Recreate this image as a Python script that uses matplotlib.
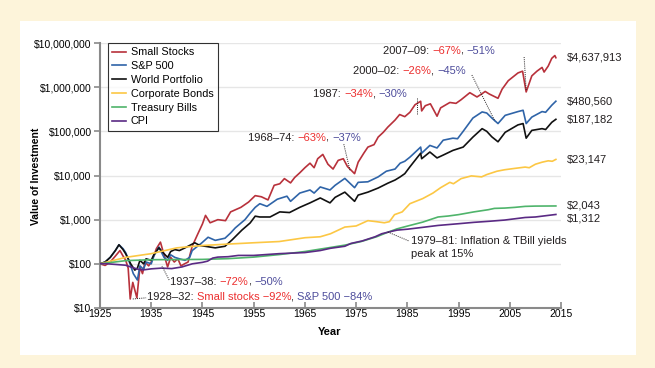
import matplotlib
matplotlib.use("Agg")
import matplotlib.pyplot as plt
from matplotlib.patches import Rectangle
from matplotlib.ticker import FixedLocator, NullLocator

plt.rcParams["font.family"] = ["Liberation Sans", "DejaVu Sans"]

# ── data (growth of $100 invested in 1925) ──────────────────────────────────
small_years = [1925.0, 1926.0, 1927.0, 1928.0, 1928.9, 1929.5, 1930.0, 1930.5, 1930.9, 1931.4,
               1932.2, 1932.8, 1933.3, 1933.8, 1934.5, 1935.0, 1935.5, 1936.0, 1936.8, 1937.5,
               1938.2, 1938.8, 1939.5, 1940.2, 1940.8, 1941.5, 1942.2, 1943.0, 1944.0, 1945.0,
               1945.6, 1946.5, 1948.0, 1949.5, 1950.5, 1952.5, 1954.0, 1955.3, 1956.5, 1957.8,
               1959.0, 1960.1, 1961.0, 1962.2, 1963.0, 1964.0, 1965.0, 1966.0, 1966.8, 1967.5,
               1968.5, 1969.5, 1970.5, 1971.5, 1972.5, 1973.3, 1974.7, 1975.4, 1976.5, 1977.3,
               1978.5, 1979.3, 1980.3, 1981.2, 1982.6, 1983.5, 1984.5, 1985.5, 1986.5, 1987.6,
               1987.8, 1988.5, 1989.5, 1990.8, 1991.5, 1993.3, 1994.5, 1995.5, 1997.2, 1998.6,
               1999.5, 2000.2, 2001.0, 2002.7, 2003.5, 2004.7, 2006.6, 2007.5, 2008.2, 2009.3,
               2010.3, 2011.3, 2011.7, 2012.5, 2013.2, 2013.8, 2014.0]
small_vals = [100, 92, 110, 150, 200, 150, 122, 80, 16, 38,
              17, 85, 60, 110, 90, 110, 150, 220, 310, 160,
              85, 140, 110, 130, 90, 100, 110, 250, 450, 800,
              1250, 850, 1000, 950, 1500, 1900, 2500, 3500, 3300, 2800,
              6000, 6500, 8500, 6800, 9000, 11500, 15000, 19000, 15000, 24000,
              30000, 18000, 14000, 22000, 24000, 16000, 11000, 20000, 32000, 44000,
              50000, 74000, 95000, 125000, 180000, 240000, 215000, 270000, 400000, 480000,
              290000, 380000, 420000, 220000, 340000, 450000, 430000, 520000, 750000, 600000,
              700000, 800000, 700000, 560000, 900000, 1400000, 2100000, 2300000, 780000, 1800000,
              2300000, 2800000, 2200000, 3000000, 4500000, 5200000, 4637913]

sp_years = [1925.0, 1926.0, 1927.0, 1928.0, 1928.7, 1929.5, 1930.0, 1930.5, 1931.0, 1931.5,
            1932.3, 1932.8, 1933.5, 1934.0, 1935.0, 1935.5, 1936.5, 1937.5, 1938.2, 1938.8,
            1939.6, 1940.5, 1941.6, 1942.5, 1943.0, 1944.9, 1946.1, 1947.5, 1949.4, 1950.5,
            1951.4, 1953.3, 1954.3, 1955.3, 1956.2, 1957.6, 1959.6, 1961.5, 1962.2, 1964.0,
            1966.0, 1966.8, 1968.0, 1969.9, 1970.9, 1972.8, 1974.7, 1975.4, 1977.3, 1979.3,
            1980.9, 1982.6, 1983.6, 1984.5, 1985.5, 1987.6, 1987.8, 1989.4, 1990.8, 1992.0,
            1993.9, 1994.8, 1995.9, 1997.8, 1999.6, 2000.5, 2001.5, 2002.7, 2004.1, 2006.6,
            2007.6, 2008.2, 2009.3, 2011.3, 2012.0, 2013.2, 2014.0]
sp_vals = [100, 110, 140, 200, 270, 220, 180, 130, 90, 60,
           43, 90, 75, 110, 100, 150, 240, 140, 120, 160,
           140, 130, 120, 140, 200, 300, 400, 340, 380, 500,
           650, 1000, 1400, 1900, 2300, 2000, 2900, 3400, 2600, 4000,
           4700, 4000, 5500, 4700, 6000, 8600, 5300, 7000, 7200, 9300,
           12500, 14000, 19000, 21000, 26000, 44000, 32000, 48000, 42000, 63000,
           70000, 68000, 100000, 200000, 275000, 260000, 200000, 150000, 230000, 280000,
           300000, 150000, 210000, 280000, 270000, 390000, 480560]

world_years = [1925.0, 1926.0, 1927.0, 1928.0, 1928.7, 1929.5, 1930.0, 1930.5, 1931.0, 1931.8,
               1932.3, 1932.8, 1933.5, 1934.0, 1935.0, 1935.5, 1936.5, 1937.5, 1938.2, 1938.8,
               1939.6, 1940.5, 1941.6, 1943.5, 1944.5, 1945.5, 1947.5, 1949.4, 1950.8, 1952.7,
               1954.3, 1955.3, 1956.2, 1958.2, 1960.1, 1962.0, 1964.0, 1966.0, 1968.0, 1969.9,
               1970.9, 1972.8, 1974.7, 1975.4, 1977.3, 1979.3, 1981.2, 1982.6, 1983.6, 1984.5,
               1985.5, 1987.6, 1987.8, 1989.4, 1990.8, 1992.0, 1993.9, 1995.9, 1997.8, 1999.6,
               2000.5, 2001.5, 2002.7, 2004.1, 2006.6, 2007.6, 2008.2, 2009.3, 2011.3, 2012.0,
               2013.2, 2014.0]
world_vals = [100, 110, 140, 200, 270, 210, 170, 130, 100, 72,
              80, 120, 100, 130, 120, 160, 230, 170, 140, 190,
              210, 200, 230, 300, 260, 250, 230, 250, 350, 580,
              840, 1200, 1150, 1150, 1500, 1450, 1900, 2400, 3100, 2400,
              3200, 4200, 2600, 3600, 4200, 5200, 6700, 7900, 9300, 11000,
              15700, 32000, 24000, 34000, 25000, 29000, 37000, 44000, 74000, 115000,
              100000, 75000, 58000, 95000, 140000, 150000, 70000, 105000, 115000, 110000,
              160000, 187182]

bond_years = [1925, 1930, 1935, 1940, 1945, 1950, 1955, 1960, 1965, 1968,
              1970, 1972.8, 1975, 1977.3, 1979, 1980.5, 1981.5, 1982.5, 1984, 1985.5,
              1987, 1988, 1990, 1991.5, 1993.3, 1994, 1995.5, 1997.5, 1999.5, 2000.5,
              2002.5, 2004, 2006, 2008, 2008.8, 2010, 2011.3, 2012.5, 2013.3, 2014]
bond_vals = [100, 140, 170, 230, 260, 280, 300, 320, 390, 410,
             480, 680, 720, 950, 900, 850, 900, 1300, 1500, 2300,
             2700, 3000, 4000, 5300, 7000, 6500, 8500, 9800, 9300, 10500,
             12500, 13500, 14500, 15500, 15000, 18000, 20000, 21500, 21000, 23147]

tbill_years = [1925, 1930, 1935, 1940, 1945, 1950, 1955, 1960, 1965, 1969,
               1972.8, 1976, 1979, 1981.2, 1983, 1985.1, 1988, 1991, 1993, 1995,
               1998, 2000.8, 2002, 2004, 2006, 2008, 2010, 2014]
tbill_vals = [100, 118, 124, 125, 126, 131, 142, 162, 190, 225,
              265, 320, 410, 520, 620, 720, 880, 1150, 1210, 1300,
              1500, 1680, 1800, 1830, 1900, 2000, 2030, 2043]

cpi_years = [1925, 1926, 1928, 1930, 1931, 1932.5, 1933.5, 1935, 1937, 1939,
             1941, 1943, 1945, 1946, 1947, 1948, 1950, 1952, 1955, 1960,
             1965, 1968, 1970, 1972.8, 1974, 1976.2, 1978.7, 1980, 1981.2, 1983,
             1985.1, 1988, 1991, 1995, 1998, 2001, 2004, 2008, 2010, 2014]
cpi_vals = [100, 101, 97, 93, 85, 75, 73, 77, 80, 78,
            85, 100, 108, 115, 135, 142, 145, 155, 155, 170,
            180, 200, 225, 250, 290, 330, 410, 480, 520, 580,
            610, 670, 740, 810, 870, 920, 980, 1120, 1150, 1312]

series_names = ["Small Stocks", "S&P 500", "World Portfolio", "Corporate Bonds",
                "Treasury Bills", "CPI"]
end_labels = ["$4,637,913", "$480,560", "$187,182", "$23,147", "$2,043", "$1,312"]
y_ticks = [10, 100, 1000, 10000, 100000, 1000000, 10000000]
y_ticklabels = ["$10", "$100", "$1,000", "$10,000", "$100,000", "$1,000,000", "$10,000,000"]
x_ticks = list(range(1925, 2016, 10))

colors = ["#b8313b", "#2f64a8", "#111111", "#fcc744", "#4fb46b", "#5a2a84"]
RED, BLUE, INK = "#ec2f2f", "#4e4d9c", "#231f20"

# ── figure ──────────────────────────────────────────────────────────────────
fig = plt.figure(figsize=(6.55, 3.68), dpi=100, facecolor="#fdf4da")
fig.add_artist(Rectangle((20 / 655, 1 - 355 / 368), 616 / 655, 334 / 368,
                         transform=fig.transFigure, facecolor="white",
                         edgecolor="none", zorder=0))
ax = fig.add_axes([100 / 655, 1 - 308 / 368, 461 / 655, 265 / 368])
ax.set_facecolor("none")

all_x = [small_years, sp_years, world_years, bond_years, tbill_years, cpi_years]
all_y = [small_vals, sp_vals, world_vals, bond_vals, tbill_vals, cpi_vals]
lines = []
for xs, ys, c, name in zip(all_x, all_y, colors, series_names):
    ln, = ax.plot(xs, ys, color=c, lw=1.2, label=name, zorder=3)
    lines.append(ln)

ax.set_yscale("log")
ax.set_xlim(1925, 2015)
ax.set_ylim(10, 1e7)
ax.yaxis.set_major_locator(FixedLocator(y_ticks))
ax.yaxis.set_minor_locator(NullLocator())
ax.set_yticklabels(y_ticklabels)
ax.set_xticks(x_ticks)
ax.tick_params(axis="y", direction="out", length=4, width=1.2, color="#8a8a8a",
               labelsize=7.5, pad=2)
ax.tick_params(axis="x", direction="in", length=4, width=1.2, color="#8a8a8a",
               labelsize=7.5, pad=1)
ax.grid(axis="y", color="#e6e6e6", lw=1.0, zorder=0)
for s in ["top", "right"]:
    ax.spines[s].set_visible(False)
for s in ["left", "bottom"]:
    ax.spines[s].set_color("#8a8a8a")
    ax.spines[s].set_linewidth(1.5)

fig.text(36 / 655, 1 - 176 / 368, "Value of Investment", rotation=90, ha="center",
         va="center", fontsize=7.5, fontweight="bold")
fig.text(330 / 655, 1 - 332 / 368, "Year", ha="center", va="center",
         fontsize=8, fontweight="bold")

leg = ax.legend(loc="upper left", bbox_to_anchor=(8 / 461, 1.0), borderaxespad=0,
                fontsize=7.8, handlelength=1.3, handletextpad=0.4, labelspacing=0.35,
                borderpad=0.4, frameon=True, fancybox=False)
leg.get_frame().set_edgecolor("black")
leg.get_frame().set_linewidth(0.8)

# end-of-series values
end_offsets = [0, 0, 0, 0, 0, -3]
for xs, ys, lab, dy in zip(all_x, all_y, end_labels, end_offsets):
    ax.annotate(lab, xy=(2016.2, ys[-1]), xytext=(0, dy), textcoords="offset points",
                ha="left", va="center", fontsize=8, color=INK, annotation_clip=False)


def multicolor(x, y, parts, size=8):
    t = ax.text(x, y, parts[0][0], color=parts[0][1], fontsize=size, ha="left", va="center")
    for s, c in parts[1:]:
        t = ax.annotate(s, xy=(1, 0), xycoords=t, ha="left", va="bottom", color=c, fontsize=size)
    return t


def leader(x0, y0, x1, y1):
    ax.plot([x0, x1], [y0, y1], color=INK, lw=0.7, ls=(0, (1, 1.2)), zorder=4)


M = "\u2212"
multicolor(1980.2, 6.6e6, [("2007\u201309: ", INK), (M + "67%", RED), (", ", INK), (M + "51%", BLUE)])
leader(2007.8, 4.8e6, 2008.2, 8.6e5)
multicolor(1974.4, 2.3e6, [("2000\u201302: ", INK), (M + "26%", RED), (", ", INK), (M + "45%", BLUE)])
leader(1997.6, 1.88e6, 2002.1, 1.7e5)
multicolor(1966.6, 7.0e5, [("1987: ", INK), (M + "34%", RED), (", ", INK), (M + "30%", BLUE)])
leader(1986.9, 5.6e5, 1986.9, 2.35e5)
multicolor(1953.9, 7.1e4, [("1968\u201374: ", INK), (M + "63%", RED), (", ", INK), (M + "37%", BLUE)])
leader(1972.6, 5.1e4, 1973.8, 1.3e4)
multicolor(1938.7, 38.8, [("1937\u201338: ", INK), (M + "72%", RED), (", ", INK), (M + "50%", BLUE)])
leader(1938.5, 43, 1937.1, 89)
multicolor(1934.2, 17.7, [("1928\u201332: ", INK), ("Small stocks " + M + "92%", RED),
                          (", ", INK), ("S&P 500 " + M + "84%", BLUE)])
leader(1931.4, 16, 1934.0, 17)
ax.text(1985.7, 329, "1979\u201381: Inflation & TBill yields\npeak at 15%", fontsize=8,
        color=INK, ha="left", va="top", linespacing=1.3,
        transform=ax.transData).set_y(420)
leader(1981.2, 525, 1985.3, 329)

fig.savefig("out.png", dpi=100, facecolor=fig.get_facecolor())
